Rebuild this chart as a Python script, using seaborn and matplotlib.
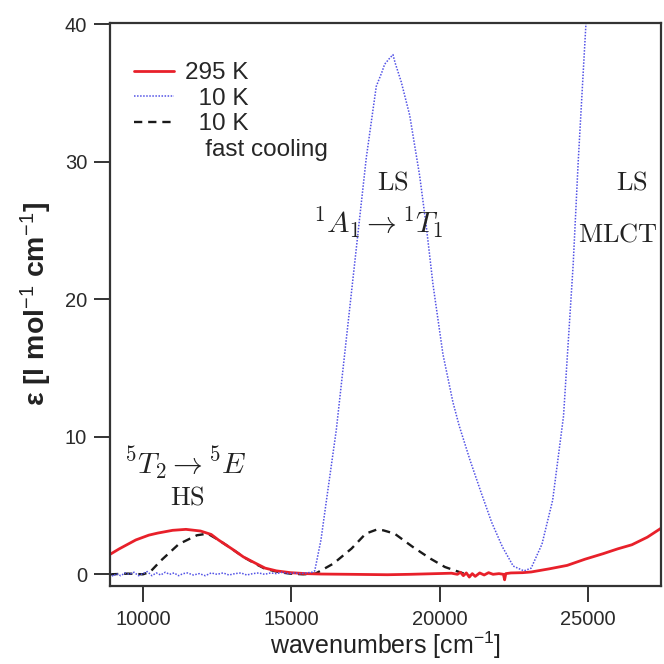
import numpy as np
import pandas as pd
import matplotlib
matplotlib.use("Agg")
import matplotlib.pyplot as plt
from matplotlib.lines import Line2D
import seaborn as sns

# ---------------- data ----------------
red_x = [8890, 9200, 9760, 10200, 10500, 11000, 11450, 11940, 12300, 12545, 13000,
         13390, 13800, 14120, 14500, 14970, 15500, 16000, 17000, 18240, 19000, 20060,
         20400, 20600, 20700, 20800, 20900, 21000, 21100, 21200, 21350, 21500, 21650,
         21800, 22000, 22150, 22190, 22230, 22400, 22800, 23085, 23700, 24300, 24900,
         25510, 26000, 26480, 27000, 27461]
red_y = [1.45, 1.85, 2.5, 2.85, 3.0, 3.2, 3.27, 3.15, 2.9, 2.5, 1.85,
         1.26, 0.8, 0.45, 0.25, 0.12, 0.05, 0.02, 0.0, -0.03, 0.0, 0.06,
         0.08, 0.0, 0.15, -0.1, 0.1, -0.2, 0.05, -0.15, 0.1, -0.05, 0.12,
         0.0, 0.05, 0.0, -0.4, 0.05, 0.1, 0.12, 0.17, 0.4, 0.65, 1.1,
         1.5, 1.85, 2.15, 2.7, 3.35]

blue_x = [8890, 9000, 9100, 9250, 9400, 9550, 9700, 9850, 10000, 10150, 10300, 10450,
          10600, 10750, 10900, 11050, 11200, 11350, 11500, 11700, 11900, 12100, 12300,
          12500, 12700, 12900, 13100, 13300, 13500, 13700, 13900, 14100, 14300, 14500,
          14700, 14900, 15100, 15300, 15500, 15700, 15790, 16000, 16180, 16517, 16854,
          17191, 17528, 17865, 18050, 18146, 18300, 18427, 18500, 18708, 18990, 19326,
          19551, 19775, 20112, 20450, 20660, 21025, 21390, 21750, 22115, 22480, 22840,
          23085, 23450, 23810, 24175, 24500, 24670, 24930, 25050]
blue_y = [0.1, -0.15, 0.05, -0.1, 0.1, 0.0, 0.15, -0.1, 0.05, 0.2, -0.1, 0.1,
          -0.05, 0.15, 0.0, 0.1, -0.1, 0.05, 0.1, -0.05, 0.05, -0.1, 0.1,
          0.0, 0.1, -0.05, 0.05, 0.1, -0.05, 0.05, 0.1, 0.0, 0.1, 0.05,
          0.15, 0.05, 0.1, 0.05, 0.1, 0.15, 0.25, 2.5, 5.3, 10.5, 17.1,
          23.7, 30.3, 35.5, 36.5, 37.1, 37.5, 37.8, 37.2, 35.8, 33.4, 29.0,
          25.3, 21.1, 16.0, 12.5, 10.8, 8.3, 6.0, 3.8, 2.0, 0.6, 0.25,
          0.45, 2.2, 5.4, 11.5, 22.5, 30.0, 40.0, 45.0]

black_x = [8890, 9500, 10000, 10240, 10606, 11210, 11820, 12180, 12545, 13000, 13390,
           13800, 14120, 14600, 14970, 15400, 15815, 16420, 17030, 17510, 17875, 18100,
           18480, 19090, 19690, 20180, 20660, 21030]
black_y = [0.0, 0.05, 0.0, 0.17, 1.0, 2.2, 2.84, 2.96, 2.5, 1.85, 1.26,
           0.75, 0.4, 0.15, 0.05, 0.0, 0.05, 0.78, 1.87, 2.96, 3.25, 3.2,
           2.96, 2.0, 1.14, 0.53, 0.17, -0.1]

legend_labels = ["295 K", "\u200710 K", "\u200710 K", "   fast cooling"]
x_ticks = [10000, 15000, 20000, 25000]
y_ticks = [0, 10, 20, 30, 40]

# ---------------- style ----------------
sns.set_style("ticks")
plt.rcParams["font.family"] = ["Liberation Sans", "DejaVu Sans"]
plt.rcParams["mathtext.fontset"] = "custom"
plt.rcParams["mathtext.rm"] = "Liberation Sans"
plt.rcParams["mathtext.it"] = "Liberation Sans:italic"
plt.rcParams["mathtext.bf"] = "Liberation Sans:bold"

fig = plt.figure(figsize=(6.64, 6.64), dpi=100)
ax = fig.add_axes([110 / 664, 1 - 586 / 664, 551 / 664, 563 / 664])

red_df = pd.DataFrame({"x": red_x, "y": red_y})
blue_df = pd.DataFrame({"x": blue_x, "y": blue_y})
black_df = pd.DataFrame({"x": black_x, "y": black_y})

sns.lineplot(data=black_df, x="x", y="y", ax=ax, color="#1a1a1a", lw=1.7,
             linestyle=(0, (3.5, 2.5)), sort=False, label="black")
sns.lineplot(data=red_df, x="x", y="y", ax=ax, color="#e8202a", lw=2.0,
             sort=False, label="red")
sns.lineplot(data=blue_df, x="x", y="y", ax=ax, color="#5252e6", lw=1.1,
             linestyle=(0, (1, 1)), sort=False, label="blue")

ax.set_xlim(8890, 27461)
ax.set_ylim(-0.85, 40.1)
ax.set_xticks(x_ticks)
ax.set_yticks(y_ticks)
ax.tick_params(direction="out", length=11.5, width=1.4, color="#333333",
               labelsize=14.5, labelcolor="#2a2a2a")
ax.tick_params(axis="x", pad=6)
ax.tick_params(axis="y", pad=5)
for s in ax.spines.values():
    s.set_color("#333333")
    s.set_linewidth(1.6)

ax.set_xlabel("wavenumbers [cm$^{-1}$]", fontsize=18, color="#222222", labelpad=0.5)
ax.set_ylabel("ε [l mol$^{-1}$ cm$^{-1}$]", fontsize=20.5, color="#222222",
              fontweight="bold", labelpad=8)

# legend
h, l = ax.get_legend_handles_labels()
hmap = dict(zip(l, h))
handles = [hmap["red"], hmap["blue"], hmap["black"], Line2D([], [], linestyle="none")]
ax.legend(handles, legend_labels, loc="upper left", bbox_to_anchor=(0.043, 0.93),
          frameon=False, fontsize=17.5, handlelength=1.65, handletextpad=0.45,
          labelspacing=0.14, borderaxespad=0, borderpad=0)

# annotations (LaTeX-like serif)
akw = dict(color="#222222", math_fontfamily="cm")
ax.text(18430, 28.5, r"$\mathrm{LS}$", ha="center", va="center", fontsize=19, **akw)
ax.text(17923, 25.6, r"$^1A_1\rightarrow{}^1T_1$", ha="center", va="center",
        fontsize=21.5, **akw)
ax.text(26487, 28.5, r"$\mathrm{LS}$", ha="center", va="center", fontsize=19, **akw)
ax.text(24666, 24.7, r"$\mathrm{MLCT}$", ha="left", va="center", clip_on=False,
        fontsize=19, **akw)
ax.text(11416, 8.1, r"$^5T_2\rightarrow{}^5E$", ha="center", va="center",
        fontsize=21.5, **akw)
ax.text(11500, 5.57, r"$\mathrm{HS}$", ha="center", va="center", fontsize=19, **akw)

fig.savefig("out.png", dpi=100)
